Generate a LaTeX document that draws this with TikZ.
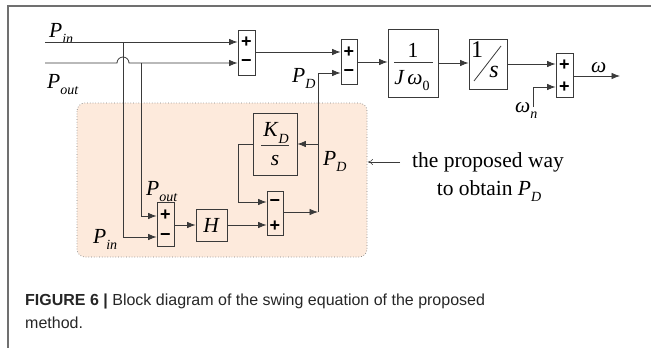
\documentclass[tikz,border=0pt]{standalone}
\usepackage{fontspec}
\setmainfont{Liberation Serif}
\newfontfamily\capfont{Liberation Sans}
\usetikzlibrary{arrows.meta}
\definecolor{ln}{HTML}{3A3A3A}
\definecolor{peach}{HTML}{FDEADC}
\definecolor{framec}{HTML}{707070}
\newcommand\lsub[1]{\raisebox{-0.3em}{\fontsize{14}{14}\selectfont #1}}
\newcommand\PP[1]{\textit{P}\lsub{\textit{#1}}}
\begin{document}
\begin{tikzpicture}[x=1pt,y=-1pt,
  wire/.style={ln,line width=0.8pt},
  arr/.style={ln,line width=0.8pt,-{Latex[length=8.5pt,width=6.5pt]}},
  thinarr/.style={ln,line width=0.5pt,-{To[length=5pt,width=6pt]}},
  sumbox/.style={draw=ln,line width=0.8pt,minimum width=17pt,minimum height=45pt,inner sep=0pt},
  blk/.style={draw=ln,line width=0.8pt,inner sep=0pt},
  sgn/.style={font=\capfont\bfseries\fontsize{18}{18}\selectfont,inner sep=0pt},
  lbl/.style={font=\fontsize{21.5}{24}\selectfont,inner sep=0pt},
  captxt/.style={font=\capfont\fontsize{16}{18}\selectfont,text=black!85,inner sep=0pt}]
\useasboundingbox (0,0) rectangle (651,348);
% frame
\draw[framec,line width=1.2pt] (8,348) -- (8,6) -- (651,6);
% shaded region
\draw[gray,dotted,line width=0.7pt,fill=peach,rounded corners=8pt] (77,103) rectangle (367,257);

% blocks
\node[sumbox] (s1) at (246.5,52.5) {};
\node[sgn] (s1p) at (246.5,42) {+};
\node[sgn] (s1m) at (246.5,63) {\textminus};
\node[sumbox,minimum width=16pt] (s2) at (349,61.5) {};
\node[sgn] (s2p) at (349,52) {+};
\node[sgn] (s2m) at (349,73) {\textminus};
\node[blk,minimum width=50pt,minimum height=68pt] (J) at (413,63) {};
\node[lbl] (J1) at (413,50) {1};
\draw[wire] (394,62) -- (433,62);
\node[lbl,anchor=base] (J2) at (412,84) {\textit{J\,ω}\lsub{0}};
\node[blk,minimum width=38pt,minimum height=50pt] (I) at (488,64) {};
\node[lbl,font=\fontsize{24}{24}\selectfont] (I1) at (477,50) {1};
\draw[wire] (474,81) -- (501,46);
\node[lbl,font=\fontsize{24}{24}\selectfont] (Is) at (494,72) {\textit{s}};
\node[sumbox,minimum height=44pt] (s3) at (564.5,75) {};
\node[sgn] (s3p) at (564.5,65) {+};
\node[sgn] (s3q) at (564.5,87) {+};

\node[blk,minimum width=44pt,minimum height=62pt] (KD) at (275,144) {};
\node[lbl] (KDt) at (276,133) {\textit{K}\lsub{\textit{D}}};
\draw[wire] (261,145.5) -- (289,145.5);
\node[lbl] (KDs) at (275,161) {\textit{s}};
\node[sumbox,minimum width=16pt,minimum height=44pt] (s4) at (275,213) {};
\node[sgn] (s4m) at (275,203) {\textminus};
\node[sgn] (s4p) at (275,226) {+};
\node[sumbox,minimum height=44pt] (s5) at (165.5,224) {};
\node[sgn] (s5p) at (165.5,215) {+};
\node[sgn] (s5m) at (165.5,237) {\textminus};
\node[blk,minimum width=31pt,minimum height=32pt,lbl] (H) at (211.5,225) {\textit{H}};

% labels
\node[lbl,anchor=base west] (Lpin) at (49,37) {\PP{in}};
\node[lbl,anchor=base west] (Lpout) at (47,88) {\PP{out}};
\node[lbl,anchor=base west] (LpD) at (292,82) {\PP{D}};
\node[lbl,anchor=base west] (LpD2) at (323,165) {\PP{D}};
\node[lbl,anchor=base west] (Lpout2) at (146,195) {\PP{out}};
\node[lbl,anchor=base west] (Lpin2) at (93,243) {\PP{in}};
\node[lbl,anchor=base west] (Lw) at (591,72) {\textit{ω}};
\node[lbl,anchor=base west] (Lwn) at (515,112) {\textit{ω}\lsub{\textit{n}}};
\node[lbl,anchor=base] (A1) at (488,167) {the proposed way};
\node[lbl,anchor=base] (A2) at (489,195) {to obtain \PP{D}};

% coordinates
\coordinate (pinS) at (45,42);
\coordinate (poutS) at (45,63);
\coordinate (jin) at (123,42);
\coordinate (jout) at (141,63);
\coordinate (pdB) at (318,212);
\coordinate (pdK) at (318,144);
\coordinate (pdT) at (318,73);
\coordinate (kdL) at (238,144);
\coordinate (wn) at (533,107);
\coordinate (wout) at (620,76);
\coordinate (annS) at (400,162);
\coordinate (annE) at (368,162);

% connectors
\draw[arr] (pinS) -- (s1.west |- pinS);
\draw[arr] (poutS) -- (117,63) arc (180:360:6) -- (s1.west |- poutS);
\draw[arr] (jin) |- (s5.west |- 0,237);
\draw[arr] (jout) |- (s5.west |- 0,216);
\draw[arr] (s1.east |- 0,52) -- (s2.west |- 0,52);
\draw[arr] (pdB) -- (pdT) -- (s2.west |- pdT);
\draw[arr] (pdK) -- (KD.east |- pdK);
\draw[arr] (s4.east |- pdB) -- (pdB);
\draw[arr] (s2.east |- 0,62) -- (J.west |- 0,62);
\draw[arr] (J.east) -- (I.west |- J.east);
\draw[arr] (I.east) -- (s3.west |- I.east);
\draw[arr] (wn) |- (s3.west |- 0,87);
\draw[arr] (s3.east |- wout) -- (wout);
\draw[arr] (KD.west |- kdL) -- (kdL) |- (s4.west |- 0,202);
\draw[arr] (s5.east |- 0,225) -- (H.west);
\draw[arr] (H.east) -- (s4.west |- H.east);
\draw[thinarr] (annS) -- (annE);

% caption
\node[captxt,anchor=base west] (cap1) at (25,305) {\textbf{FIGURE 6 |} Block diagram of the swing equation of the proposed};
\node[captxt,anchor=base west] (cap2) at (25,328) {method.};
\end{tikzpicture}
\end{document}
